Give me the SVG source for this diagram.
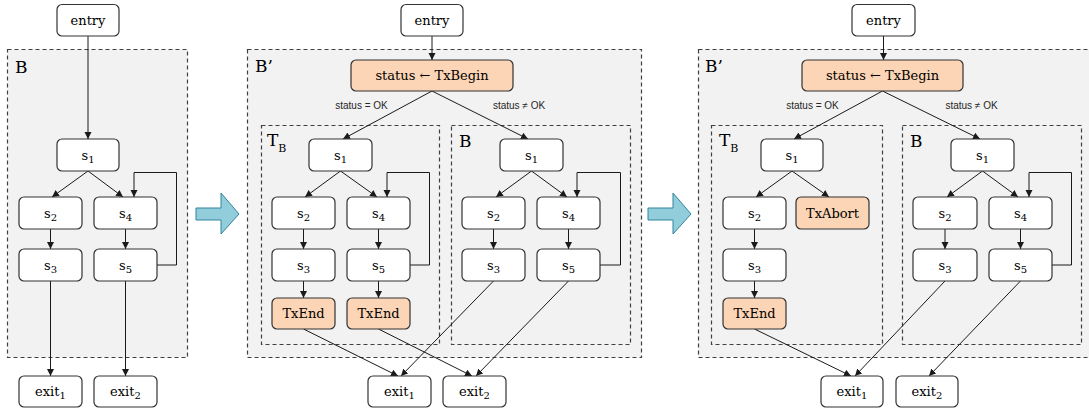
<svg xmlns="http://www.w3.org/2000/svg" width="1089" height="409" viewBox="0 0 1089 409">
<style>
.bg{fill:#ffffff}
.region{fill:#f2f2f2;stroke:#404040;stroke-width:1.2;stroke-dasharray:4 3}
.inner{fill:#f2f2f2;stroke:#404040;stroke-width:1.2;stroke-dasharray:4 3}
.box{fill:#ffffff;stroke:#333333;stroke-width:1.2}
.tx{fill:#fbd5b5;stroke:#333333;stroke-width:1.2}
.t{font-family:"DejaVu Serif","Liberation Serif",serif;font-size:13px;fill:#000000;text-anchor:middle}
.big{font-family:"DejaVu Serif","Liberation Serif",serif;font-size:17px;fill:#000000}
.sm{font-family:"Liberation Sans","Noto Sans",sans-serif;font-size:10px;fill:#262626;text-anchor:middle}
.sub{font-size:10px}
.c{fill:none;stroke:#1a1a1a;stroke-width:1;marker-end:url(#ah)}
.bigarrow{fill:#92cddc;stroke:#31849b;stroke-width:1}
</style>
<defs>
<marker id="ah" markerUnits="userSpaceOnUse" markerWidth="8" markerHeight="8" refX="7" refY="3.5" orient="auto">
<path d="M0,0 L7,3.5 L0,7 z" fill="#1a1a1a"/>
</marker>
</defs>
<rect class="bg" x="0" y="0" width="1089" height="409"/>

<!-- regions -->
<g id="regions">
<rect class="region" x="7.5" y="49.5" width="180" height="308"/>
<text class="big" x="15" y="73">B</text>
<rect class="region" x="247.5" y="49.5" width="394" height="308"/>
<text class="big" x="255" y="72">B’</text>
<rect class="inner" x="261.5" y="125.5" width="178" height="219"/>
<text class="big" x="267" y="146">T<tspan font-size="11" dy="6">B</tspan></text>
<rect class="inner" x="451.5" y="125.5" width="179" height="219"/>
<text class="big" x="459" y="147">B</text>
<rect class="region" x="698.5" y="49.5" width="394" height="308"/>
<text class="big" x="705" y="72">B’</text>
<rect class="inner" x="711.5" y="125.5" width="171" height="219"/>
<text class="big" x="719" y="146">T<tspan font-size="11" dy="6">B</tspan></text>
<rect class="inner" x="902.5" y="125.5" width="179" height="219"/>
<text class="big" x="910" y="147">B</text>
</g>

<!-- transformation arrows -->
<g id="transform-arrows">
<polygon class="bigarrow" points="196,208 221,208 221,193 239,214 221,234 221,220 196,220"/>
<polygon class="bigarrow" points="648,208 673,208 673,193 691,214 673,234 673,220 648,220"/>
</g>

<!-- connectors -->
<g id="connectors">
<line class="c" x1="88" y1="36" x2="88" y2="139"/>
<line class="c" x1="88" y1="171" x2="52" y2="197"/>
<line class="c" x1="88" y1="171" x2="123" y2="197"/>
<line class="c" x1="50.5" y1="229" x2="50.5" y2="249"/>
<line class="c" x1="125.5" y1="229" x2="125.5" y2="249"/>
<polyline class="c" points="157,265 176.5,265 176.5,172.5 134,172.5 134,197"/>
<line class="c" x1="50.5" y1="281" x2="50.5" y2="376"/>
<line class="c" x1="125.5" y1="281" x2="125.5" y2="376"/>

<line class="c" x1="432" y1="36" x2="432" y2="60"/>
<line class="c" x1="432" y1="91" x2="343" y2="139"/>
<line class="c" x1="432" y1="91" x2="528" y2="139"/>
<line class="c" x1="340.5" y1="171" x2="305" y2="197"/>
<line class="c" x1="340.5" y1="171" x2="377" y2="197"/>
<line class="c" x1="303.5" y1="229" x2="303.5" y2="249"/>
<line class="c" x1="378.5" y1="229" x2="378.5" y2="249"/>
<line class="c" x1="303.5" y1="281" x2="303.5" y2="298"/>
<line class="c" x1="378.5" y1="281" x2="378.5" y2="298"/>
<polyline class="c" points="410,265 429.5,265 429.5,172.5 387,172.5 387,197"/>
<line class="c" x1="531.5" y1="171" x2="496" y2="197"/>
<line class="c" x1="531.5" y1="171" x2="567" y2="197"/>
<line class="c" x1="493.5" y1="229" x2="493.5" y2="249"/>
<line class="c" x1="568.5" y1="229" x2="568.5" y2="249"/>
<polyline class="c" points="600,265 620.5,265 620.5,172.5 577,172.5 577,197"/>
<line class="c" x1="303.5" y1="329" x2="398" y2="376"/>
<line class="c" x1="493.5" y1="281" x2="401" y2="376"/>
<line class="c" x1="378.5" y1="329" x2="472" y2="376"/>
<line class="c" x1="568.5" y1="281" x2="476" y2="376"/>

<line class="c" x1="883.5" y1="36" x2="883.5" y2="60"/>
<line class="c" x1="882.5" y1="91" x2="794" y2="139"/>
<line class="c" x1="882.5" y1="91" x2="980" y2="139"/>
<line class="c" x1="792" y1="171" x2="756" y2="197"/>
<line class="c" x1="792" y1="171" x2="829" y2="197"/>
<line class="c" x1="754.5" y1="229" x2="754.5" y2="249"/>
<line class="c" x1="754.5" y1="281" x2="754.5" y2="298"/>
<line class="c" x1="754.5" y1="329" x2="851" y2="376"/>
<line class="c" x1="982.5" y1="171" x2="947" y2="197"/>
<line class="c" x1="982.5" y1="171" x2="1018" y2="197"/>
<line class="c" x1="945" y1="229" x2="945" y2="249"/>
<line class="c" x1="1020.5" y1="229" x2="1020.5" y2="249"/>
<polyline class="c" points="1052,265 1071.5,265 1071.5,172.5 1029,172.5 1029,197"/>
<line class="c" x1="945" y1="281" x2="855" y2="376"/>
<line class="c" x1="1020.5" y1="281" x2="929" y2="376"/>
</g>

<!-- edge labels -->
<g id="edge-labels">
<text class="sm" x="361.5" y="108.5">status = OK</text>
<text class="sm" x="519" y="108.5">status ≠ OK</text>
<text class="sm" x="812.5" y="108.5">status = OK</text>
<text class="sm" x="971.5" y="108.5">status ≠ OK</text>
</g>

<!-- left panel nodes -->
<g id="L-entry"><rect class="box" x="57" y="4.5" width="62" height="31.5" rx="5"/><text class="t" x="88" y="25">entry</text></g>
<g id="L-s1"><rect class="box" x="57" y="139" width="62" height="32" rx="5"/><text class="t" x="88" y="160">s<tspan class="sub" dy="3">1</tspan></text></g>
<g id="L-s2"><rect class="box" x="19" y="197" width="63" height="32" rx="5"/><text class="t" x="50.5" y="218">s<tspan class="sub" dy="3">2</tspan></text></g>
<g id="L-s4"><rect class="box" x="94" y="197" width="63" height="32" rx="5"/><text class="t" x="125.5" y="218">s<tspan class="sub" dy="3">4</tspan></text></g>
<g id="L-s3"><rect class="box" x="19" y="249" width="63" height="32" rx="5"/><text class="t" x="50.5" y="270">s<tspan class="sub" dy="3">3</tspan></text></g>
<g id="L-s5"><rect class="box" x="94" y="249" width="63" height="32" rx="5"/><text class="t" x="125.5" y="270">s<tspan class="sub" dy="3">5</tspan></text></g>
<g id="L-exit1"><rect class="box" x="19" y="376" width="63" height="31" rx="5"/><text class="t" x="50.5" y="396">exit<tspan class="sub" dy="3">1</tspan></text></g>
<g id="L-exit2"><rect class="box" x="94" y="376" width="63" height="31" rx="5"/><text class="t" x="125.5" y="396">exit<tspan class="sub" dy="3">2</tspan></text></g>

<!-- middle panel nodes -->
<g id="M-entry"><rect class="box" x="401" y="4.5" width="62" height="31.5" rx="5"/><text class="t" x="432" y="25">entry</text></g>
<g id="M-txbegin"><rect class="tx" x="351" y="60" width="162" height="31" rx="5"/><text class="t" x="432" y="80">status ← TxBegin</text></g>
<g id="M-T-s1"><rect class="box" x="309" y="139" width="63" height="32" rx="5"/><text class="t" x="340.5" y="160">s<tspan class="sub" dy="3">1</tspan></text></g>
<g id="M-T-s2"><rect class="box" x="272" y="197" width="63" height="32" rx="5"/><text class="t" x="303.5" y="218">s<tspan class="sub" dy="3">2</tspan></text></g>
<g id="M-T-s4"><rect class="box" x="347" y="197" width="63" height="32" rx="5"/><text class="t" x="378.5" y="218">s<tspan class="sub" dy="3">4</tspan></text></g>
<g id="M-T-s3"><rect class="box" x="272" y="249" width="63" height="32" rx="5"/><text class="t" x="303.5" y="270">s<tspan class="sub" dy="3">3</tspan></text></g>
<g id="M-T-s5"><rect class="box" x="347" y="249" width="63" height="32" rx="5"/><text class="t" x="378.5" y="270">s<tspan class="sub" dy="3">5</tspan></text></g>
<g id="M-T-txend1"><rect class="tx" x="272" y="298" width="63" height="31" rx="5"/><text class="t" x="303.5" y="318">TxEnd</text></g>
<g id="M-T-txend2"><rect class="tx" x="347" y="298" width="63" height="31" rx="5"/><text class="t" x="378.5" y="318">TxEnd</text></g>
<g id="M-B-s1"><rect class="box" x="500" y="139" width="63" height="32" rx="5"/><text class="t" x="531.5" y="160">s<tspan class="sub" dy="3">1</tspan></text></g>
<g id="M-B-s2"><rect class="box" x="462" y="197" width="63" height="32" rx="5"/><text class="t" x="493.5" y="218">s<tspan class="sub" dy="3">2</tspan></text></g>
<g id="M-B-s4"><rect class="box" x="537" y="197" width="63" height="32" rx="5"/><text class="t" x="568.5" y="218">s<tspan class="sub" dy="3">4</tspan></text></g>
<g id="M-B-s3"><rect class="box" x="462" y="249" width="63" height="32" rx="5"/><text class="t" x="493.5" y="270">s<tspan class="sub" dy="3">3</tspan></text></g>
<g id="M-B-s5"><rect class="box" x="537" y="249" width="63" height="32" rx="5"/><text class="t" x="568.5" y="270">s<tspan class="sub" dy="3">5</tspan></text></g>
<g id="M-exit1"><rect class="box" x="368" y="376" width="63" height="31" rx="5"/><text class="t" x="399.5" y="396">exit<tspan class="sub" dy="3">1</tspan></text></g>
<g id="M-exit2"><rect class="box" x="443" y="376" width="63" height="31" rx="5"/><text class="t" x="474.5" y="396">exit<tspan class="sub" dy="3">2</tspan></text></g>

<!-- right panel nodes -->
<g id="R-entry"><rect class="box" x="852" y="4.5" width="63" height="31.5" rx="5"/><text class="t" x="883.5" y="25">entry</text></g>
<g id="R-txbegin"><rect class="tx" x="802" y="60" width="161" height="31" rx="5"/><text class="t" x="882.5" y="80">status ← TxBegin</text></g>
<g id="R-T-s1"><rect class="box" x="761" y="139" width="62" height="32" rx="5"/><text class="t" x="792" y="160">s<tspan class="sub" dy="3">1</tspan></text></g>
<g id="R-T-s2"><rect class="box" x="723" y="197" width="63" height="32" rx="5"/><text class="t" x="754.5" y="218">s<tspan class="sub" dy="3">2</tspan></text></g>
<g id="R-T-txabort"><rect class="tx" x="796" y="197" width="73" height="32" rx="5"/><text class="t" x="832.5" y="218">TxAbort</text></g>
<g id="R-T-s3"><rect class="box" x="723" y="249" width="63" height="32" rx="5"/><text class="t" x="754.5" y="270">s<tspan class="sub" dy="3">3</tspan></text></g>
<g id="R-T-txend"><rect class="tx" x="723" y="298" width="63" height="31" rx="5"/><text class="t" x="754.5" y="318">TxEnd</text></g>
<g id="R-B-s1"><rect class="box" x="951" y="139" width="63" height="32" rx="5"/><text class="t" x="982.5" y="160">s<tspan class="sub" dy="3">1</tspan></text></g>
<g id="R-B-s2"><rect class="box" x="913" y="197" width="64" height="32" rx="5"/><text class="t" x="945" y="218">s<tspan class="sub" dy="3">2</tspan></text></g>
<g id="R-B-s4"><rect class="box" x="989" y="197" width="63" height="32" rx="5"/><text class="t" x="1020.5" y="218">s<tspan class="sub" dy="3">4</tspan></text></g>
<g id="R-B-s3"><rect class="box" x="913" y="249" width="64" height="32" rx="5"/><text class="t" x="945" y="270">s<tspan class="sub" dy="3">3</tspan></text></g>
<g id="R-B-s5"><rect class="box" x="989" y="249" width="63" height="32" rx="5"/><text class="t" x="1020.5" y="270">s<tspan class="sub" dy="3">5</tspan></text></g>
<g id="R-exit1"><rect class="box" x="821" y="376" width="62" height="31" rx="5"/><text class="t" x="852" y="396">exit<tspan class="sub" dy="3">1</tspan></text></g>
<g id="R-exit2"><rect class="box" x="896" y="376" width="62" height="31" rx="5"/><text class="t" x="927" y="396">exit<tspan class="sub" dy="3">2</tspan></text></g>
</svg>
